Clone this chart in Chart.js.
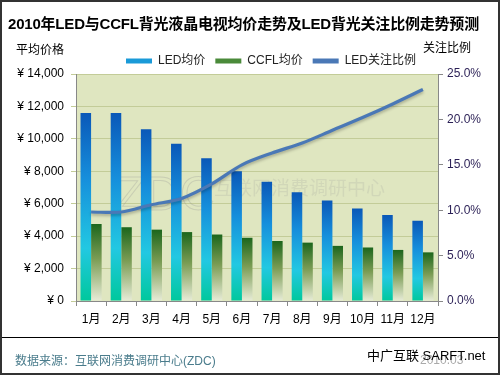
<!DOCTYPE html>
<html>
<head>
<meta charset="utf-8">
<script src="https://cdn.jsdelivr.net/npm/chart.js@4"></script>
<style>
  html, body { margin: 0; padding: 0; background: #fff; }
  #frame {
    position: relative; width: 500px; height: 375px; overflow: hidden;
    font-family: "Liberation Sans", Arial, "Noto Sans CJK SC", sans-serif;
  }
  #chart { position: absolute; left: 0; top: 0; }
  #border { position: absolute; left: 0; top: 0; width: 500px; height: 375px; box-sizing: border-box;
    border: 2px solid #333; pointer-events: none; }
  .txt { position: absolute; white-space: nowrap; }
  #title { left: 8px; top: 12px; font-size: 15px; font-weight: bold; color: #000; letter-spacing: -0.2px; }
  #unitL { left: 16px; top: 40px; font-size: 12px; color: #000; }
  #unitR { left: 423px; top: 38px; font-size: 12px; color: #000; }
  #sep { position: absolute; left: 2px; right: 2px; top: 337px; height: 0; border-top: 1px solid #000; }
  #source { left: 15px; top: 351px; font-size: 12px; color: #4a7c8c; }
  #date { left: 420px; top: 353px; font-size: 12px; color: #aaa; }
  #brand { left: 367px; top: 345px; font-size: 13px; color: #000; }
</style>
</head>
<body>
<div id="frame">
  <canvas id="chart" width="500" height="375"></canvas>
  <div id="title" class="txt">2010年LED与CCFL背光液晶电视均价走势及LED背光关注比例走势预测</div>
  <div id="unitL" class="txt">平均价格</div>
  <div id="unitR" class="txt">关注比例</div>
  <div id="sep"></div>
  <div id="source" class="txt">数据来源：互联网消费调研中心(ZDC)</div>
  <div id="date" class="txt">2010.03</div>
  <div id="brand" class="txt">中广互联 SARFT.net</div>
  <div id="border"></div>
</div>
<script>
// chart data
const months = ['1月', '2月', '3月', '4月', '5月', '6月', '7月', '8月', '9月', '10月', '11月', '12月'];
const ledPrice = [11600, 11600, 10600, 9700, 8800, 8000, 7350, 6700, 6200, 5700, 5300, 4950];
const ccflPrice = [4750, 4550, 4400, 4250, 4100, 3900, 3700, 3600, 3400, 3300, 3150, 3000];
const ledShare = [9.8, 9.8, 10.6, 11.3, 12.9, 15.0, 16.3, 17.4, 18.8, 20.2, 21.7, 23.3];

const seriesNames = ['LED均价', 'CCFL均价', 'LED关注比例'];

const baseFont = '"Liberation Sans", Arial, "Noto Sans CJK SC", sans-serif';

function barGradient(stops, fallback) {
    return function(context) {
        const chart = context.chart;
        if (!chart.chartArea || context.type !== 'data') return fallback;
        const y = chart.scales.y;
        const top = y.getPixelForValue(context.raw);
        const base = y.getPixelForValue(0);
        const g = chart.ctx.createLinearGradient(0, top, 0, base);
        stops.forEach(s => g.addColorStop(s[0], s[1]));
        return g;
    };
}

const ledStops = [[0, '#0a58b8'], [0.35, '#168fdc'], [0.72, '#22c8e2'], [1, '#00c89c']];
const ccflStops = [[0, '#1c661c'], [0.45, '#7a9c54'], [1, '#e8ecd8']];

// plot background + watermark
const plotBackground = {
    id: 'plotBackground',
    beforeDraw(chart) {
        const { ctx, chartArea: a } = chart;
        ctx.save();
        ctx.fillStyle = '#dfe6c0';
        ctx.fillRect(a.left, a.top, a.right - a.left, a.bottom - a.top);
        ctx.restore();
    },
    beforeDatasetsDraw(chart) {
        const ctx = chart.ctx;
        ctx.save();
        ctx.strokeStyle = 'rgba(150,150,150,0.3)';
        ctx.lineWidth = 1;
        ctx.font = '48px "Liberation Sans", sans-serif';
        ctx.strokeText('ZDC', 116, 197);
        ctx.fillStyle = 'rgba(150,150,150,0.18)';
        ctx.font = '19px "Noto Sans CJK SC", sans-serif';
        ctx.fillText('互联网消费调研中心', 214, 188);
        ctx.restore();
    }
};

// nudge the legend row to the right, as in the original
const legendShift = {
    id: 'legendShift',
    afterLayout(chart) {
        const lg = chart.legend;
        lg.left += 21; lg.right += 21;
        lg.top += 3; lg.bottom += 3;
        lg.adjustHitBoxes();
    }
};

// soft shadow under the line
const lineShadow = {
    id: 'lineShadow',
    beforeDatasetDraw(chart, args) {
        if (args.index !== 2) return;
        const ctx = chart.ctx;
        ctx.save();
        ctx.shadowColor = 'rgba(0,0,0,0.25)';
        ctx.shadowBlur = 3;
        ctx.shadowOffsetY = 2;
    },
    afterDatasetDraw(chart, args) {
        if (args.index !== 2) return;
        chart.ctx.restore();
    }
};

const ctx = document.getElementById('chart').getContext('2d');
new Chart(ctx, {
    type: 'bar',
    data: {
        labels: months,
        datasets: [
            {
                label: seriesNames[0],
                data: ledPrice,
                yAxisID: 'y',
                backgroundColor: barGradient(ledStops, '#1a90d8'),
                categoryPercentage: 0.7,
                barPercentage: 1.0,
                order: 2
            },
            {
                label: seriesNames[1],
                data: ccflPrice,
                yAxisID: 'y',
                backgroundColor: barGradient(ccflStops, '#4a8a3a'),
                categoryPercentage: 0.7,
                barPercentage: 1.0,
                order: 2
            },
            {
                type: 'line',
                label: seriesNames[2],
                data: ledShare,
                yAxisID: 'y1',
                borderColor: '#4a78b6',
                backgroundColor: '#4a78b6',
                borderWidth: 3.2,
                pointRadius: 0,
                tension: 0.3,
                order: 1
            }
        ]
    },
    options: {
        responsive: false,
        animation: false,
        layout: { padding: { top: 42, left: 0, right: 0, bottom: 47 } },
        plugins: {
            tooltip: { enabled: false },
            legend: {
                position: 'top',
                labels: {
                    boxWidth: 26,
                    boxHeight: 5,
                    padding: 10,
                    color: '#222',
                    font: { size: 12, family: baseFont },
                    sort: (a, b) => a.datasetIndex - b.datasetIndex,
                    generateLabels(chart) {
                        const items = Chart.defaults.plugins.legend.labels.generateLabels(chart);
                        const fills = ['#1a9ad8', '#4a8a3a', '#4a78b6'];
                        items.forEach(item => {
                            item.fillStyle = fills[item.datasetIndex];
                            item.strokeStyle = fills[item.datasetIndex];
                            item.lineWidth = 0;
                        });
                        return items;
                    }
                }
            }
        },
        scales: {
            x: {
                grid: { offset: true, drawOnChartArea: false, tickLength: 5, color: '#888' },
                border: { color: '#888' },
                ticks: {
                    color: '#000', padding: 6, autoSkip: false, maxRotation: 0, minRotation: 0,
                    font: { size: 12, family: baseFont }
                },
                afterFit(scale) { scale.height = 27; }
            },
            y: {
                position: 'left',
                min: 0,
                max: 14000,
                grid: { color: '#c3cc98', tickLength: 5 },
                border: { color: '#888' },
                ticks: {
                    stepSize: 2000,
                    color: '#000',
                    padding: 7,
                    font: { size: 12, family: '"Liberation Sans", Arial, sans-serif' },
                    callback: value => '¥ ' + value.toLocaleString('en-US')
                },
                afterFit(scale) { scale.width = 76; }
            },
            y1: {
                position: 'right',
                min: 0,
                max: 25,
                grid: { drawOnChartArea: false, tickLength: 5, color: '#888' },
                border: { color: '#888' },
                ticks: {
                    stepSize: 5,
                    color: '#2a1f55',
                    padding: 4,
                    font: { size: 12, family: '"Liberation Sans", Arial, sans-serif' },
                    callback: value => value.toFixed(1) + '%'
                },
                afterFit(scale) { scale.width = 62; }
            }
        }
    },
    plugins: [plotBackground, legendShift, lineShadow]
});
</script>
</body>
</html>
